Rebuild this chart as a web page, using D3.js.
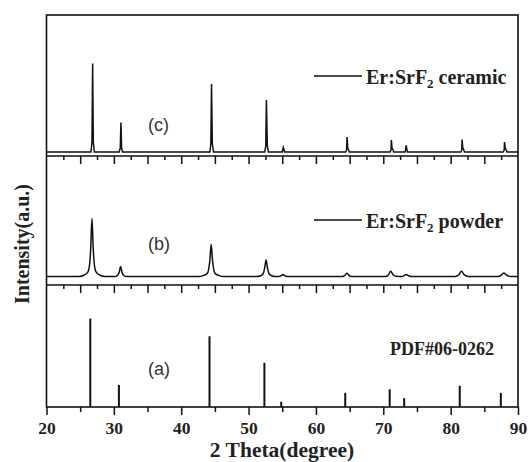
<!DOCTYPE html>
<html>
<head>
<meta charset="utf-8">
<script src="https://cdn.jsdelivr.net/npm/d3@7"></script>
<style>
  body { margin: 0; background: #fff; }
  svg { display: block; }
  .frame { fill: none; stroke: #111; stroke-width: 1.6; }
  .axis path, .axis line { stroke: #111; stroke-width: 1.5; }
  .axis text { font-family: "Liberation Serif", "Times New Roman", serif; font-weight: bold; font-size: 17.5px; fill: #222; }
  .curve { fill: none; stroke: #111; stroke-width: 1.5; }
  .stick { stroke: #111; stroke-width: 2; }
  .serif { font-family: "Liberation Serif", "Times New Roman", serif; font-weight: bold; fill: #222; }
  .tag { font-family: "Liberation Sans", Arial, sans-serif; font-size: 18px; fill: #333; }
</style>
</head>
<body>
<div id="container"></div>
<script>
const width = 528;
const height = 462;

// DATA
const xTicks = [20, 30, 40, 50, 60, 70, 80, 90];

// (c) Er:SrF2 ceramic, [2theta, intensity]
const ceramic = [
  [20, 0], [26.6, 0], [26.75, 10], [26.85, 88.5], [26.95, 10], [27.1, 0],
  [30.8, 0], [30.95, 4], [31.05, 29.5], [31.15, 4], [31.3, 0],
  [44.25, 0], [44.4, 8], [44.5, 68], [44.62, 8], [44.8, 0],
  [52.4, 0], [52.55, 6], [52.65, 52], [52.78, 6], [52.95, 0],
  [55.0, 0], [55.15, 4.5], [55.35, 0],
  [64.4, 0], [64.55, 2], [64.62, 15], [64.72, 4], [64.8, 3], [64.95, 0],
  [71.0, 0], [71.15, 2], [71.2, 12], [71.3, 4], [71.4, 3], [71.55, 0],
  [73.25, 0], [73.4, 6.7], [73.5, 2.5], [73.6, 0],
  [81.5, 0], [81.65, 2], [81.7, 12.5], [81.8, 4], [81.9, 3], [82.05, 0],
  [87.8, 0], [87.95, 2], [88.0, 10], [88.1, 4], [88.2, 3], [88.35, 0],
  [90, 0]
];

// (b) Er:SrF2 powder, [2theta, intensity]
const powder = [
  [20, 0], [24.8, 0], [25.55, 1.2], [26.15, 4.6], [26.39, 11.6], [26.57, 29], [26.75, 58],
  [26.93, 29], [27.11, 11.6], [27.35, 4.6], [27.95, 1.2], [28.7, 0],
  [30.2, 0], [30.6, 1.5], [30.82, 5], [31.0, 10], [31.18, 5], [31.4, 1.5], [31.8, 0],
  [42.6, 0], [43.25, 0.9], [43.85, 2.9], [44.05, 6.4], [44.25, 16], [44.45, 32],
  [44.65, 16], [44.85, 6.4], [45.05, 2.9], [45.65, 0.9], [46.3, 0],
  [51.2, 0], [51.8, 0.8], [52.18, 3], [52.38, 8.2], [52.6, 16.5], [52.82, 8.2],
  [53.02, 3], [53.4, 0.8], [54.0, 0],
  [54.5, 0], [54.85, 0.8], [55.1, 2], [55.35, 0.8], [55.7, 0],
  [63.9, 0], [64.3, 1.1], [64.6, 3.2], [64.9, 1.1], [65.3, 0],
  [70.3, 0], [70.75, 1.6], [71.1, 5.2], [71.45, 1.8], [71.9, 0.3],
  [72.8, 0], [73.1, 0.9], [73.4, 2], [73.7, 0.9], [74.1, 0],
  [80.7, 0], [81.2, 1.7], [81.6, 5.2], [82.0, 1.9], [82.6, 0],
  [87.0, 0], [87.5, 1.2], [87.9, 3.5], [88.3, 1.3], [88.9, 0], [90, 0]
];

// (a) PDF#06-0262 reference lines
const pdfPos = [26.5, 30.75, 44.2, 52.35, 54.85, 64.35, 70.95, 73.1, 81.35, 87.45];
const pdfInt = [100, 25, 80, 50, 6, 16, 20, 10, 24, 16];

const svg = d3.select("div#container").append("svg")
    .attr("width", width)
    .attr("height", height);

// LAYOUT
const pLeft = 46.5, pRight = 518, pTop = 15, pBottom = 407;
const div1 = 156, div2 = 285;

// SCALES
const xScale = d3.scaleLinear().domain([20, 90]).range([pLeft, pRight]);
const yC = d3.scaleLinear().domain([-4, 137]).range([div1, pTop]);
const yB = d3.scaleLinear().domain([-8.5, 120.5]).range([div2, div1]);
const yA = d3.scaleLinear().domain([0, 138]).range([pBottom, div2]);

// LINES
const lineC = d3.line().x(d => xScale(d[0])).y(d => yC(d[1]));
const lineB = d3.line().x(d => xScale(d[0])).y(d => yB(d[1])).curve(d3.curveMonotoneX);

svg.append("path").attr("class", "curve").attr("d", lineC(ceramic));
svg.append("path").attr("class", "curve").attr("d", lineB(powder));

svg.selectAll(".stick")
    .data(pdfPos)
    .enter()
    .append("line")
    .attr("class", "stick")
    .attr("x1", d => xScale(d))
    .attr("x2", d => xScale(d))
    .attr("y1", yA(0))
    .attr("y2", (d, i) => yA(pdfInt[i]));

// AXES
const xaxis = d3.axisBottom(xScale).tickValues(xTicks).tickSize(8).tickFormat(d3.format("d"));
const xminor = d3.axisBottom(xScale).tickValues(d3.range(25, 90, 10)).tickSize(5).tickFormat("");

const gx = svg.append("g")
    .attr("class", "axis")
    .attr("transform", "translate(0," + pBottom + ")")
    .call(xaxis);
gx.select(".domain").remove();
gx.selectAll("text").attr("y", 27).attr("dy", 0);

svg.append("g")
    .attr("class", "axis")
    .attr("transform", "translate(0," + pBottom + ")")
    .call(xminor)
    .select(".domain").remove();

// divider ticks hanging into the lower panels
[div1, div2].forEach(function (y) {
    const major = d3.axisBottom(xScale).tickValues(d3.range(25, 90, 5)).tickSize(8).tickFormat("");
    const minor = d3.axisBottom(xScale).tickValues(d3.range(22.5, 90, 5)).tickSize(4).tickFormat("");
    svg.append("g").attr("class", "axis").attr("transform", "translate(0," + y + ")")
        .call(major).select(".domain").remove();
    svg.append("g").attr("class", "axis").attr("transform", "translate(0," + y + ")")
        .call(minor).select(".domain").remove();
    svg.append("line").attr("class", "frame")
        .attr("x1", pLeft).attr("x2", pRight).attr("y1", y).attr("y2", y);
});

svg.append("rect")
    .attr("class", "frame")
    .attr("x", pLeft).attr("y", pTop)
    .attr("width", pRight - pLeft).attr("height", pBottom - pTop);

// TITLES
svg.append("text")
    .attr("class", "serif")
    .attr("x", 282).attr("y", 457)
    .style("font-size", "21.5px")
    .style("text-anchor", "middle")
    .text("2 Theta(degree)");

svg.append("text")
    .attr("class", "serif")
    .attr("transform", "translate(29,244) rotate(-90)")
    .style("font-size", "20px")
    .style("text-anchor", "middle")
    .text("Intensity(a.u.)");

// LEGENDS
const legends = [
    {y: 76, base: 83.5, label: " ceramic"},
    {y: 220, base: 228, label: " powder"}
];
legends.forEach(function (d) {
    svg.append("line")
        .attr("x1", 314).attr("x2", 362)
        .attr("y1", d.y).attr("y2", d.y)
        .attr("stroke", "#111").attr("stroke-width", 1.6);
    const t = svg.append("text")
        .attr("class", "serif")
        .attr("x", 366).attr("y", d.base)
        .style("font-size", "20px");
    t.append("tspan").text("Er:SrF");
    t.append("tspan").attr("dy", 4).style("font-size", "13px").text("2");
    t.append("tspan").attr("dy", -4).text(d.label);
});

svg.append("text")
    .attr("class", "serif")
    .attr("x", 390).attr("y", 355)
    .style("font-size", "18px")
    .text("PDF#06-0262");

// PANEL TAGS
const tags = [["(c)", 131], ["(b)", 250], ["(a)", 375]];
tags.forEach(function (d) {
    svg.append("text")
        .attr("class", "tag")
        .attr("x", 148).attr("y", d[1])
        .text(d[0]);
});
</script>
</body>
</html>
